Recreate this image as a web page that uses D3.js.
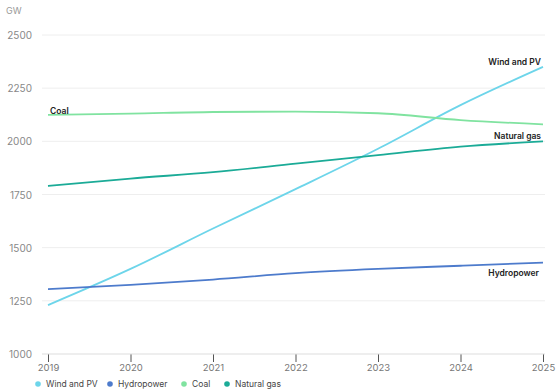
<!DOCTYPE html>
<html>
<head>
<meta charset="utf-8">
<script src="https://cdn.jsdelivr.net/npm/d3@7"></script>
<style>
  body { margin: 0; background: #fff; }
  svg { font-family: Inter, "Noto Sans", Arial, sans-serif; }
</style>
</head>
<body>
<svg id="chart" width="557" height="391"></svg>
<script>
// Installed capacity, GW
const years = [2019, 2020, 2021, 2022, 2023, 2024, 2025];
const windPV = [1230, 1400, 1590, 1775, 1965, 2170, 2350];
const hydro = [1305, 1325, 1350, 1380, 1400, 1415, 1430];
const coal = [2124, 2130, 2138, 2140, 2132, 2100, 2080];
const gas = [1790, 1825, 1855, 1895, 1935, 1975, 2000];
const yTicks = [1000, 1250, 1500, 1750, 2000, 2250, 2500];

const series = [
  { name: 'Wind and PV', values: windPV, color: '#6dd5ea' },
  { name: 'Hydropower', values: hydro, color: '#4d7bcc' },
  { name: 'Coal', values: coal, color: '#80e3a0' },
  { name: 'Natural gas', values: gas, color: '#1bab97' }
];

const svg = d3.select('#chart');
const x = d3.scaleLinear().domain([2019, 2025]).range([48, 543]);
const y = d3.scaleLinear().domain([1000, 2500]).range([354, 35]);

// gridlines
svg.append('g')
  .selectAll('line')
  .data(yTicks.slice(1))
  .join('line')
  .attr('x1', 42).attr('x2', 545)
  .attr('y1', d => y(d)).attr('y2', d => y(d))
  .attr('stroke', '#eeeeee');

// y labels
svg.append('g')
  .selectAll('text')
  .data(yTicks)
  .join('text')
  .attr('x', 32).attr('y', d => y(d) + 4)
  .attr('text-anchor', 'end')
  .attr('font-size', 10)
  .attr('fill', '#888')
  .text(d => d);

svg.append('text')
  .attr('x', 6).attr('y', 14)
  .attr('font-size', 9).attr('fill', '#999')
  .text('GW');

// x axis
const xAxis = d3.axisBottom(x)
  .tickValues(years)
  .tickFormat(d3.format('d'))
  .tickSize(8)
  .tickPadding(2);
const gx = svg.append('g')
  .attr('transform', `translate(0,${y(1000)})`)
  .call(xAxis);
gx.select('.domain').remove();
gx.selectAll('.tick line').attr('stroke', '#555');
gx.selectAll('.tick text').attr('fill', '#777').attr('font-size', 9.5)
  .attr('font-family', 'Inter, "Noto Sans", Arial, sans-serif');
svg.append('line')
  .attr('x1', 42).attr('x2', 545)
  .attr('y1', y(1000)).attr('y2', y(1000))
  .attr('stroke', '#dddddd');

// lines
const line = d3.line()
  .x((d, i) => x(years[i]))
  .y(d => y(d))
  .curve(d3.curveMonotoneX);

svg.append('g')
  .selectAll('path')
  .data(series)
  .join('path')
  .attr('d', d => line(d.values))
  .attr('fill', 'none')
  .attr('stroke', d => d.color)
  .attr('stroke-width', 1.8);

// inline labels
const labels = [
  { text: 'Wind and PV', x: x(2025) - 2, y: y(2350) - 2, anchor: 'end' },
  { text: 'Coal', x: x(2019) + 2, y: y(2124) - 1, anchor: 'start' },
  { text: 'Natural gas', x: x(2025) - 2, y: y(2000) - 2, anchor: 'end' },
  { text: 'Hydropower', x: x(2025) - 4, y: y(1430) + 13, anchor: 'end' }
];
svg.append('g')
  .selectAll('text')
  .data(labels)
  .join('text')
  .attr('x', d => d.x).attr('y', d => d.y)
  .attr('text-anchor', d => d.anchor)
  .attr('font-size', 8.5)
  .attr('font-weight', 600)
  .attr('fill', '#222')
  .text(d => d.text);

// legend
const legendX = [38, 110, 184, 227];
const lg = svg.append('g')
  .selectAll('g')
  .data(series)
  .join('g')
  .attr('transform', (d, i) => `translate(${legendX[i]},384)`);
lg.append('circle').attr('r', 2.8).attr('fill', d => d.color);
lg.append('text')
  .attr('x', 8).attr('y', 3)
  .attr('font-size', 8.5).attr('fill', '#444')
  .text(d => d.name);
</script>
</body>
</html>
